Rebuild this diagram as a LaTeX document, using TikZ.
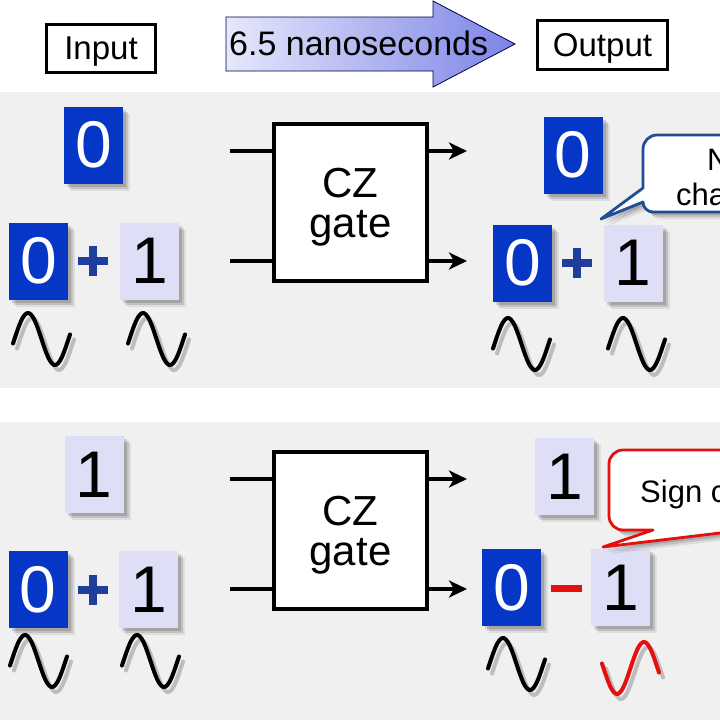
\documentclass[tikz,border=0pt]{standalone}
\usepackage{fontspec}
\setmainfont{Liberation Sans}
\usetikzlibrary{shadows,arrows.meta}
\definecolor{dblue}{HTML}{0636C6}
\definecolor{lbox}{HTML}{DEDEF7}
\definecolor{bg}{HTML}{F0F0F0}
\definecolor{plusblue}{HTML}{1F3E9C}
\definecolor{callblue}{HTML}{1F4E96}
\definecolor{myred}{HTML}{E31010}
\definecolor{arrL}{HTML}{E6E8FB}
\definecolor{arrR}{HTML}{7C84E6}
\newcommand\qwave[4]{%
  \draw[black!50, opacity=.45, line width=4pt, line cap=round, shift={(#1+4,#2+5)}]
    plot[smooth, domain=0:57, samples=30] (\x, {#4*(-26)*cos((\x-15)*360/54)});
  \draw[#3, line width=4pt, line cap=round, shift={(#1,#2)}]
    plot[smooth, domain=0:57, samples=30] (\x, {#4*(-26)*cos((\x-15)*360/54)});
}
\begin{document}
\begin{tikzpicture}[x=1pt,y=-1pt,
  softshadow/.style={
    drop shadow={shadow xshift=3pt,shadow yshift=-3pt,opacity=.14,fill=black},
    drop shadow={shadow xshift=5pt,shadow yshift=-5pt,opacity=.12,fill=black},
    drop shadow={shadow xshift=7pt,shadow yshift=-7pt,opacity=.08,fill=black}},
  digbox/.style={softshadow, minimum width=59pt, minimum height=77pt, inner sep=0pt,
    font=\fontsize{66}{66}\selectfont},
  zerobox/.style={digbox, fill=dblue, text=white},
  onebox/.style={digbox, fill=lbox, text=black},
  gatebox/.style={draw, line width=4pt, fill=white, minimum width=153pt, minimum height=157pt,
    align=center, text depth=0pt, font=\fontsize{42}{40}\selectfont},
  headbox/.style={draw, line width=2.5pt, fill=white, inner sep=0pt, text depth=0pt,
    font=\fontsize{33}{33}\selectfont},
  wire/.style={line width=4pt},
  wirearrow/.style={line width=4pt, -{Stealth[length=18pt,width=17pt,inset=5pt]}},
  calltext/.style={font=\fontsize{31}{31}\selectfont, inner sep=0pt},
]
\useasboundingbox (0,0) rectangle (720,720);
\clip (0,0) rectangle (720,720);
\fill[white] (0,0) rectangle (720,720);
\fill[bg] (0,92) rectangle (720,388);
\fill[bg] (0,422) rectangle (720,720);

% header
\node[headbox, minimum width=109pt, minimum height=48pt] (inp) at (101,48.5) {Input};
\node[headbox, minimum width=130pt, minimum height=49pt] (outp) at (602.5,45) {Output};
\draw[draw=black!70!blue, line width=0.8pt, left color=arrL, right color=arrR]
  (226,17) -- (433,17) -- (433,1) -- (515,44) -- (433,87) -- (433,71) -- (226,71) -- cycle;
\node[anchor=base west, inner sep=0pt, font=\fontsize{34}{34}\selectfont] (ns) at (229,55) {6.5 nanoseconds};

% ===== top panel =====
\node[zerobox] (a0) at (93.5,145) {0};
\node[zerobox] (a1) at (38.5,261) {0};
\fill[plusblue] (78,257) rectangle (108,265);
\fill[plusblue] (89,246) rectangle (97,276);
\node[onebox] (a2) at (149.5,261) {1};
\qwave{13}{339}{black}{1}
\qwave{128}{339}{black}{1}

\node[gatebox] (g1) at (350.5,202.5) {CZ\\gate};
\coordinate (g1i1) at (230,151);
\coordinate (g1i2) at (230,261);
\coordinate (g1o1) at (467,151);
\coordinate (g1o2) at (467,261);
\draw[wire] (g1i1) -- (g1i1 -| g1.west);
\draw[wire] (g1i2) -- (g1i2 -| g1.west);
\draw[wirearrow] (g1o1 -| g1.east) -- (g1o1);
\draw[wirearrow] (g1o2 -| g1.east) -- (g1o2);

\node[zerobox] (b0) at (573,155) {0};
\node[zerobox] (b1) at (522.5,263) {0};
\fill[plusblue] (562,259) rectangle (592,267);
\fill[plusblue] (573,248) rectangle (581,278);
\node[onebox] (b2) at (633,263) {1};
\qwave{493}{344}{black}{1}
\qwave{608}{344}{black}{1}

\draw[callblue, line width=2.8pt, fill=white, line join=round, softshadow]
  (643,188) -- (643,149) .. controls (643,141.3) and (649.3,135) .. (657,135)
  -- (786,135) .. controls (793.7,135) and (800,141.3) .. (800,149)
  -- (800,198) .. controls (800,205.7) and (793.7,212) .. (786,212)
  -- (653,212) .. controls (647.5,212) and (643,207.5) .. (643,202)
  -- (601,219) -- cycle;
\node[calltext, anchor=base] (nc1) at (727,170) {No};
\node[calltext, anchor=base] (nc2) at (727,205) {change};

% ===== bottom panel =====
\node[onebox] (c0) at (94,474.5) {1};
\node[zerobox] (c1) at (38,589.5) {0};
\fill[plusblue] (78,586) rectangle (108,594);
\fill[plusblue] (89,575) rectangle (97,605);
\node[onebox] (c2) at (148.5,589.5) {1};
\qwave{10}{661}{black}{1}
\qwave{122}{661}{black}{1}

\node[gatebox] (g2) at (350.5,530.5) {CZ\\gate};
\coordinate (g2i1) at (230,479);
\coordinate (g2i2) at (230,589);
\coordinate (g2o1) at (467,479);
\coordinate (g2o2) at (467,589);
\draw[wire] (g2i1) -- (g2i1 -| g2.west);
\draw[wire] (g2i2) -- (g2i2 -| g2.west);
\draw[wirearrow] (g2o1 -| g2.east) -- (g2o1);
\draw[wirearrow] (g2o2 -| g2.east) -- (g2o2);

\node[onebox] (d0) at (564.5,476.5) {1};
\node[zerobox] (d1) at (511.5,587.5) {0};
\fill[myred] (551,584.5) rectangle (582,591.5);
\node[onebox] (d2) at (620.5,587.5) {1};
\qwave{488}{664}{black}{1}
\qwave{602}{668}{myred}{-1}

\draw[myred, line width=2.8pt, fill=white, line join=round, softshadow]
  (653,530) -- (623,530) .. controls (615.3,530) and (609,523.7) .. (609,516)
  -- (609,464) .. controls (609,456.3) and (615.3,450) .. (623,450)
  -- (786,450) .. controls (793.7,450) and (800,456.3) .. (800,464)
  -- (800,516) .. controls (800,523.7) and (793.7,530) .. (786,530)
  -- (745,530) -- (603,547) -- cycle;
\node[calltext, anchor=base west] (sc) at (640,502) {Sign change};
\end{tikzpicture}
\end{document}
